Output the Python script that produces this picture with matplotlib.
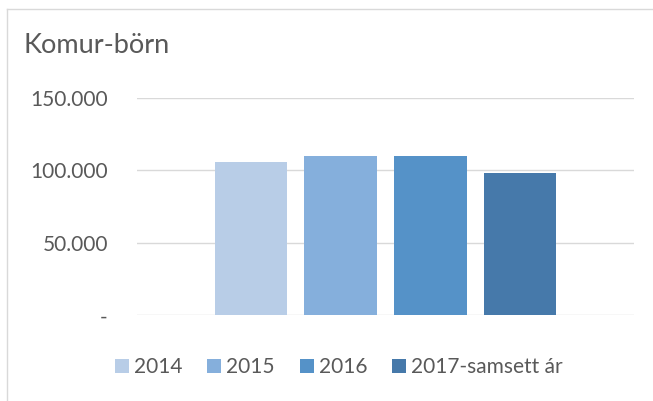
import matplotlib
matplotlib.use("Agg")
import matplotlib.pyplot as plt
from matplotlib.patches import Patch
from matplotlib.lines import Line2D

# data
series = ["2014", "2015", "2016", "2017-samsett ár"]
values = [106000, 110000, 110000, 98000]
colors = ["#B8CDE7", "#85AFDC", "#5592C8", "#4679AA"]
yticks = [0, 50000, 100000, 150000]
ytick_labels = ["-", "50.000", "100.000", "150.000"]
title = "Komur-börn"

plt.rcParams['font.family'] = ['Lato', 'DejaVu Sans']
txt = "#595959"
grid = "#D9D9D9"

W, H = 653, 401
fig = plt.figure(figsize=(W / 100, H / 100), dpi=100)

# chart border (only top and left visible in the crop)
fig.add_artist(Line2D([7 / W, 1], [1 - 9 / H, 1 - 9 / H], color=grid, lw=1.0))
fig.add_artist(Line2D([7 / W, 7 / W], [0, 1 - 9 / H], color=grid, lw=1.0))

ax = fig.add_axes([137 / W, 1 - 315.3 / H, (634 - 137) / W, (315.3 - 98) / H])

w = 0.145
step = 0.181
for i, (s, v, c) in enumerate(zip(series, values, colors)):
    ax.bar((i - 1.5) * step, v, width=w, color=c, label=s, zorder=3)

ax.set_xlim(-0.5, 0.5)
ax.set_ylim(0, 150000)
ax.set_yticks(yticks)
ax.set_yticklabels(ytick_labels)
ax.set_xticks([])
ax.tick_params(axis='y', length=0, pad=21, labelsize=15, labelcolor=txt)
for sp in ax.spines.values():
    sp.set_visible(False)
ax.yaxis.grid(True, color=grid, lw=1.0, zorder=0)
ax.set_axisbelow(True)

fig.text(23 / W, 1 - 53 / H, title, fontsize=19.5, color=txt, va='baseline', ha='left')

handles = [Patch(facecolor=c, edgecolor='none') for c in colors]
leg = fig.legend(handles, series, loc='center', bbox_to_anchor=(339 / W, 1 - 367 / H),
                 ncol=4, frameon=False, fontsize=15, handlelength=0.67, handleheight=0.67,
                 handletextpad=0.24, columnspacing=1.2, borderpad=0, borderaxespad=0)
for t in leg.get_texts():
    t.set_color(txt)

fig.savefig("out.png", dpi=100)
